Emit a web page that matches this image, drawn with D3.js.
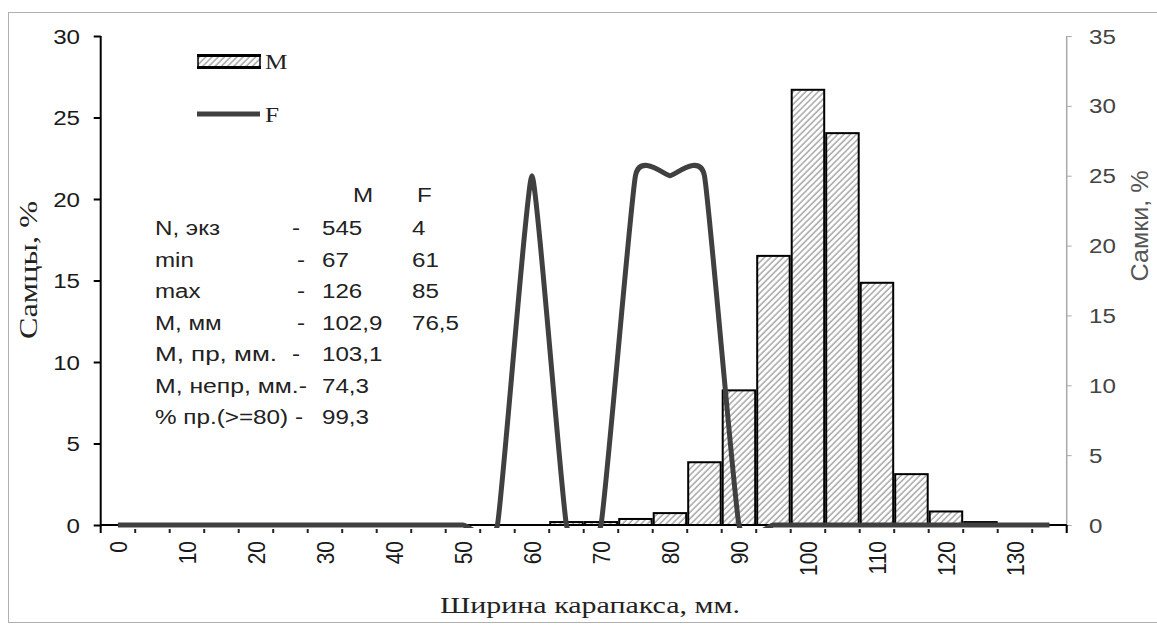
<!DOCTYPE html>
<html><head><meta charset="utf-8">
<script src="https://cdn.jsdelivr.net/npm/d3@7"></script>
<style>body{margin:0;background:#fff}</style>
</head><body>
<svg id="c" width="1157" height="628"></svg>
<script>
// ---------- data ----------
const categories = [0,5,10,15,20,25,30,35,40,45,50,55,60,65,70,75,80,85,90,95,100,105,110,115,120,125,130,135];
const maleCats   = [65,70,75,80,85,90,95,100,105,110,115,120,125];
const maleValues = [0.18,0.18,0.37,0.73,3.85,8.26,16.51,26.7,24.04,14.86,3.12,0.83,0.18];
const femaleValues = [0,0,0,0,0,0,0,0,0,0,0,0,25,0,0,25,25,25,0,0,0,0,0,0,0,0,0,0];
const xTickLabels = [0,10,20,30,40,50,60,70,80,90,100,110,120,130];
const leftTicks  = [0,5,10,15,20,25,30];
const rightTicks = [0,5,10,15,20,25,30,35];
const statLabels = ["N, экз","min","max","M, мм","M, пр, мм.","M, непр, мм.-","% пр.(>=80) -"];
const statDash   = ["-","-","-","-","-","",""];
const statM      = ["545","67","126","102,9","103,1","74,3","99,3"];
const statF      = ["4","61","85","76,5","","",""];
const legendNames = ["M","F"];

// ---------- layout ----------
const SX = 1.15; // horizontal text stretch of the reference
const statWidths = [0, 0, 0, 0, 122, 152, 148]; // rendered widths of the row labels (0 = natural)
const L = 100.7, R = 1066.7, T = 36, B = 525;
const svg = d3.select("#c");
const sans = "Liberation Sans, Arial, sans-serif";
const serif = "Liberation Serif, Times New Roman, serif";

const defs = svg.append("defs");
const pat = defs.append("pattern").attr("id","hatch").attr("patternUnits","userSpaceOnUse")
  .attr("width",4.4).attr("height",10).attr("patternTransform","rotate(45)");
pat.append("rect").attr("width",4.4).attr("height",10).attr("fill","#fff");
pat.append("line").attr("x1",1).attr("y1",0).attr("x2",1).attr("y2",10)
  .attr("stroke","#9a9a9a").attr("stroke-width",1.3);
defs.append("clipPath").attr("id","plotclip").append("rect")
  .attr("x",L).attr("y",T-10).attr("width",R-L).attr("height",B-T+13);

// outer frame
svg.append("rect").attr("x",8.5).attr("y",12.5).attr("width",1160).attr("height",610)
  .attr("fill","none").attr("stroke","#b0b0b0").attr("stroke-width",1);

const x = d3.scaleBand().domain(categories).range([L,R]).padding(0);
const bw = x.bandwidth();
const yL = d3.scaleLinear().domain([0,30]).range([B,T]);
const yR = d3.scaleLinear().domain([0,35]).range([B,T]);

function stext(g, px, py, str, opts){
  const t = g.append("text")
    .attr("transform",`translate(${px},${py}) scale(${SX},1)` + (opts.rot?` rotate(${opts.rot})`:""))
    .attr("font-family",opts.ff||sans).attr("font-size",opts.fs||21)
    .attr("fill",opts.fill||"#222").attr("text-anchor",opts.anchor||"start")
    .text(str);
  if(opts.dy) t.attr("dy",opts.dy);
  if(opts.len) t.attr("textLength",opts.len/SX).attr("lengthAdjust","spacingAndGlyphs");
  if(opts.lenV) t.attr("textLength",opts.lenV).attr("lengthAdjust","spacingAndGlyphs");
  return t;
}

// ---------- bars (M, left axis) ----------
svg.append("g").selectAll("rect").data(maleCats.map((c,i)=>({c,v:maleValues[i]}))).join("rect")
  .attr("x",d=>x(d.c)+1).attr("width",bw-2)
  .attr("y",d=>yL(d.v)).attr("height",d=>yL(0)-yL(d.v))
  .attr("fill","url(#hatch)").attr("stroke","#000").attr("stroke-width",2);

// ---------- axes ----------
const gL = svg.append("g").attr("transform",`translate(${L},0)`)
  .call(d3.axisLeft(yL).tickValues(leftTicks).tickSize(7).tickFormat(""));
gL.select(".domain").remove();
gL.selectAll(".tick line").attr("stroke","#000").attr("stroke-width",2);
svg.append("line").attr("x1",L).attr("x2",L).attr("y1",T).attr("y2",B+8).attr("stroke","#000").attr("stroke-width",2);
const gLl = svg.append("g");
leftTicks.forEach(v=> stext(gLl, 80, yL(v), String(v), {anchor:"end", dy:"0.36em", fill:"#1a1a1a"}));

const gR = svg.append("g").attr("transform",`translate(${R},0)`)
  .call(d3.axisRight(yR).tickValues(rightTicks).tickSize(5).tickFormat(""));
gR.select(".domain").remove();
gR.selectAll(".tick line").attr("stroke","#aaa").attr("stroke-width",1);
svg.append("line").attr("x1",R).attr("x2",R).attr("y1",T).attr("y2",B+8).attr("stroke","#a8a8a8").attr("stroke-width",1.5);
const gRl = svg.append("g");
rightTicks.forEach(v=> stext(gRl, 1089, yR(v), String(v), {dy:"0.36em", fill:"#444"}));

// x axis
svg.append("line").attr("x1",L).attr("x2",R).attr("y1",B).attr("y2",B).attr("stroke","#000").attr("stroke-width",2);
svg.append("line").attr("x1",R).attr("x2",R).attr("y1",B).attr("y2",B+8).attr("stroke","#000").attr("stroke-width",2);
svg.append("g").selectAll("line").data(categories.slice(1)).join("line")
  .attr("x1",d=>x(d)).attr("x2",d=>x(d)).attr("y1",B+4).attr("y2",B+8)
  .attr("stroke","#222").attr("stroke-width",2);
const gX = svg.append("g");
xTickLabels.forEach(c=> stext(gX, x(c)+bw/2, 541, String(c), {rot:-90, anchor:"end", dy:"0.36em", fill:"#1a1a1a"}));

// ---------- F line (right axis) ----------
const line = d3.line().x((d,i)=>x(categories[i])+bw/2).y(d=>yR(d)).curve(d3.curveCardinal.tension(0.6));
svg.append("path").attr("clip-path","url(#plotclip)").attr("d",line(femaleValues))
  .attr("fill","none").attr("stroke","#404040").attr("stroke-width",5).attr("stroke-linejoin","round");

// ---------- titles ----------
stext(svg, 590, 613, "Ширина карапакса, мм.", {ff:serif, fs:23, anchor:"middle", fill:"#222", len:300});
stext(svg, 37, 270, "Самцы, %", {ff:serif, fs:22, anchor:"middle", rot:-90, fill:"#222", lenV:138});
stext(svg, 1148, 226, "Самки, %", {fs:21, anchor:"middle", rot:-90, fill:"#555", lenV:111});

// ---------- legend ----------
const lg = svg.append("g");
lg.append("rect").attr("x",198).attr("y",55.5).attr("width",62).attr("height",12)
  .attr("fill","url(#hatch)").attr("stroke","#000").attr("stroke-width",1.5);
lg.append("line").attr("x1",197).attr("x2",261).attr("y1",55.5).attr("y2",55.5).attr("stroke","#000").attr("stroke-width",3);
lg.append("line").attr("x1",197).attr("x2",261).attr("y1",67.5).attr("y2",67.5).attr("stroke","#000").attr("stroke-width",3);
lg.append("line").attr("x1",197).attr("x2",260).attr("y1",114).attr("y2",114).attr("stroke","#404040").attr("stroke-width",5);
stext(lg, 265, 69, legendNames[0], {ff:serif, fs:22, fill:"#222"});
stext(lg, 265, 122, legendNames[1], {ff:serif, fs:22, fill:"#222"});

// ---------- stats table ----------
const st = svg.append("g");
stext(st, 353, 202, "M", {fs:21});
stext(st, 417, 202, "F", {fs:21});
statLabels.forEach((s,i)=>{
  const yb = 235 + 31.5*i;
  const o = {fs:21};
  if(statWidths[i]) o.len = statWidths[i];
  stext(st, 155, yb, s, o);
  if(statDash[i]) stext(st, (i===0||i===4)?292:297, yb, statDash[i], {fs:21});
  stext(st, 322, yb, statM[i], {fs:21});
  if(statF[i]) stext(st, 412, yb, statF[i], {fs:21});
});
</script>
</body></html>
